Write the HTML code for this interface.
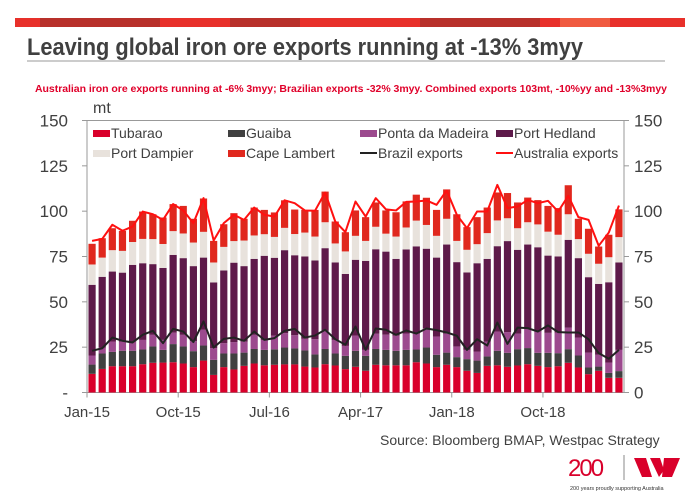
<!DOCTYPE html>
<html><head><meta charset="utf-8"><style>
body{margin:0;background:#fff;font-family:"Liberation Sans",Arial,sans-serif}
svg{display:block}
</style></head><body>
<svg id="c" width="700" height="495" viewBox="0 0 700 495" xmlns="http://www.w3.org/2000/svg" font-family="Liberation Sans, Arial, sans-serif">
<g>
<rect x="15" y="18" width="670" height="9" fill="#e8302a"/>
<rect x="40" y="18" width="120" height="9" fill="#b8302a"/>
<rect x="230" y="18" width="70" height="9" fill="#b8302a"/>
<rect x="420" y="18" width="120" height="9" fill="#b8302a"/>
<rect x="560" y="18" width="50" height="9" fill="#f05a40"/>
</g>
<text x="27" y="55" font-size="24" font-weight="bold" fill="#404040" textLength="556" lengthAdjust="spacingAndGlyphs">Leaving global iron ore exports running at -13% 3myy</text>
<line x1="27" y1="61" x2="665" y2="61" stroke="#999" stroke-width="1"/>
<text x="35" y="92" font-size="10.5" font-weight="bold" fill="#e0002a" textLength="632">Australian iron ore exports running at -6% 3myy; Brazilian exports -32% 3myy. Combined exports 103mt, -10%yy and -13%3myy</text>
<text x="93" y="113" font-size="16" fill="#404040">mt</text>
<g id="axes"></g>
<g id="bars"></g>
<g id="lines"></g>
<g>
<rect x="90" y="121" width="530" height="45" fill="#fff"/>
<g font-size="14" fill="#404040">
<rect x="93" y="130" width="17" height="7" fill="#d9002b"/><text x="111" y="138">Tubarao</text>
<rect x="228" y="130" width="17" height="7" fill="#404040"/><text x="246" y="138">Guaiba</text>
<rect x="360" y="130" width="17" height="7" fill="#9c4a8e"/><text x="378" y="138">Ponta da Madeira</text>
<rect x="496" y="130" width="17" height="7" fill="#5e1a4a"/><text x="514" y="138">Port Hedland</text>
<rect x="93" y="150" width="17" height="7" fill="#e8e2dc"/><text x="111" y="158">Port Dampier</text>
<rect x="228" y="150" width="17" height="7" fill="#e0281e"/><text x="246" y="158">Cape Lambert</text>
<line x1="360" y1="153" x2="377" y2="153" stroke="#222" stroke-width="2"/><text x="378" y="158">Brazil exports</text>
<line x1="496" y1="153" x2="513" y2="153" stroke="#ff1010" stroke-width="2"/><text x="514" y="158">Australia exports</text>
</g></g>
<text x="380" y="445" font-size="14" fill="#404040">Source: Bloomberg BMAP, Westpac Strategy</text>
<g>
<text x="568" y="476" font-size="24" fill="#d9002b" letter-spacing="-2">200</text>
<line x1="624" y1="455" x2="624" y2="480" stroke="#888" stroke-width="1"/>
<polygon points="634,458 646,458 652,477 642,477" fill="#d9002b"/>
<polygon points="650,458 660,458 664,470 659,477" fill="#d9002b"/>
<polygon points="664,458 680,458 672,477 662,477" fill="#d9002b"/>
<text x="570" y="490" font-size="5.5" fill="#333">200 years proudly supporting Australia</text>
</g>
</svg>
<script>
const tubarao=[10.3,13,14.5,14.5,14.5,15.6,16.4,16.5,16.7,16,14,17.6,9.7,14,12.7,14.7,16,15,15.3,15.5,15.5,14.3,13.8,15.6,14.9,12.9,14.2,12,15.3,15,15,15,16.7,16,14,15.3,14,12,10.8,14.7,15,14.2,14.9,15.6,14.7,14,14.5,16.4,13.8,10.1,12,8.1,8.1];
const guaiba=[5.1,8.5,7.9,8.5,8.5,8.1,9,7,10,9.4,8.8,8.3,8.3,7.5,8.8,7.3,8,8.5,8.5,9.3,8.8,8.9,7.2,8.4,6.6,7.3,8.8,8.2,8.7,8.5,8,8.5,7,8.8,6.8,6.7,5.5,6.4,6.8,5.2,8,7.7,9,8.9,7.2,7.9,7.2,7.5,6.6,3.7,2.3,2.7,3.7];
const ponta=[5,3.3,5.7,5.1,5.1,5.3,6.4,5.5,6.3,6.4,5.5,8.7,6.4,5.7,6.3,6,7.8,5.5,7.6,7.9,7.3,6.4,8.4,10,7.5,5.5,8.4,3.3,8.4,8.4,8.3,9,8.7,10.6,10.1,10.4,5.9,5.1,5,8.2,10.6,11.4,8.5,11,11.8,11,11.3,11.9,9.9,8.2,6.5,5.7,11.7];
const hedland=[39,39,38.6,38,42.3,42.3,39,39.7,42.9,42.3,41.4,39.8,36.3,40.1,43.8,41.7,41.9,46.4,42.9,45.8,44.1,45.4,43.4,45.6,42.7,39.7,41.8,49.1,46.6,45.8,42.4,46.4,48.2,43.9,43.5,49.2,46.5,42.7,48.7,45.6,47.1,50.2,46.3,46.1,46.4,42.6,42,48.4,43.8,41.6,39.1,44.3,48.2];
const dampier=[11.2,10.6,11.8,12,12.6,13.4,13.8,13.2,13.1,13.6,13,14.2,11,13,11.9,14.1,12.9,11.9,11.5,12.3,11.7,13.2,13.2,14.3,10.5,12.4,13.2,11,12.4,9.9,12.3,12.1,14.2,13.1,12,14.2,11.7,12.5,10.5,14.2,14.2,12.6,11.9,12.3,12.6,13.2,12,14.1,10.5,12.9,11.1,13.8,14];
const lambert=[11.4,10.7,12.1,11,11.7,15.1,13.7,14.6,14.9,15.2,13.1,18.4,11.9,12.5,15.4,12,15.4,13.4,13.5,15.2,13.5,12.5,14.7,16.9,12.1,10.6,14,13.1,13.4,12.8,13.4,14.4,14.3,15,14.3,16.2,14.7,12.5,14.9,14.1,15.4,13.9,14.2,13.6,13.4,14.2,14.7,16,11.2,13.8,9.5,12.4,15.3];
const brazilExports=[23,24.4,30.3,28.5,27.6,31.8,34,27.2,35.1,33.6,27.8,39.2,24.8,29.6,30.3,28.5,33.6,29,30,34,35.1,30.3,31.4,34.6,29.4,26.3,36.4,23.5,35.3,34.6,31.8,34.2,32.5,35.3,34.4,33.1,31.3,23.5,29.4,25.9,38.6,26.8,35.8,35.5,33.6,37,33.3,33.1,33.1,29.4,21.7,18.6,23.5];
const australiaExports=[83.6,84.7,92.5,89.2,91.5,99.8,98.3,95.2,103.9,100.4,93.4,107.2,83.8,93.4,98,95.2,102,98,97,106,104.4,100.4,100.2,110.3,94.3,88.5,105.3,97,107.2,101,100.4,105.1,105.3,105.9,103.5,111.4,98,90.6,99.8,99.8,114.5,101.7,102.6,106.2,104.4,105.7,99.8,108.5,96.7,95.2,80.9,88.2,103.1];
const yTicks=[0,25,50,75,100,125,150];
const yTickLabels=["-","25","50","75","100","125","150"];
const xTickIdx=[0,9,18,27,36,45];
const xTickLabels=["Jan-15","Oct-15","Jul-16","Apr-17","Jan-18","Oct-18"];

const NS="http://www.w3.org/2000/svg";
const X0=87,X1=624,Y0=392.5,YT=120.5,N=tubarao.length;
const bw=(X1-X0)/N;
const y=v=>Y0-(v/150)*(Y0-YT);
const xc=i=>X0+bw*(i+0.5);
function mk(tag,attrs,parent){const e=document.createElementNS(NS,tag);for(const k in attrs)e.setAttribute(k,attrs[k]);parent.appendChild(e);return e;}
const ax=document.getElementById('axes');
let e=mk('line',{x1:X0,y1:YT,x2:X0,y2:Y0,stroke:'#999'},ax);


e=mk('line',{x1:X1,y1:YT,x2:X1,y2:Y0,stroke:'#999'},ax);


e=mk('line',{x1:X0,y1:Y0,x2:X1,y2:Y0,stroke:'#999'},ax);


e=mk('line',{x1:X0-5,y1:YT,x2:X1+5,y2:YT,stroke:'#999'},ax);


yTicks.forEach((v,k)=>{
  mk('line',{x1:X0-5,y1:y(v),x2:X0,y2:y(v),stroke:'#999'},ax);
  mk('line',{x1:X1,y1:y(v),x2:X1+5,y2:y(v),stroke:'#999'},ax);
  let t=mk('text',{x:68,y:y(v)+6,'font-size':17,fill:'#404040','text-anchor':'end'},ax);t.textContent=yTickLabels[k];
  
  
  t=mk('text',{x:634,y:y(v)+6,'font-size':17,fill:'#404040'},ax);t.textContent=v===0?'0':yTickLabels[k];
  
  
});
xTickIdx.forEach((i,k)=>{
  const xx=X0+bw*i;
  mk('line',{x1:xx,y1:Y0,x2:xx,y2:Y0+5,stroke:'#999'},ax);
  const t=mk('text',{x:xx,y:417,'font-size':15,fill:'#404040','text-anchor':'middle'},ax);t.textContent=xTickLabels[k];
  
  
});
const series=[[tubarao,'#d9002b','tubarao'],[guaiba,'#404040','guaiba'],[ponta,'#9c4a8e','ponta'],[hedland,'#5e1a4a','hedland'],[dampier,'#e8e2dc','dampier'],[lambert,'#e0281e','lambert']];
const bg=document.getElementById('bars');
for(let i=0;i<N;i++){
  let cum=0;
  series.forEach(s=>{
    const v=s[0][i];
    const r=mk('rect',{x:xc(i)-3.6,y:y(cum+v),width:7.2,height:y(cum)-y(cum+v),fill:s[1]},bg);
    
    
    cum+=v;
  });
}
const lg=document.getElementById('lines');
function line(arr,col,name){
  const p=mk('polyline',{points:arr.map((v,i)=>xc(i)+','+y(v)).join(' '),fill:'none',stroke:col,'stroke-width':2,'stroke-linejoin':'round'},lg);
  
  
}
line(brazilExports,'#222','brazil-exports-line');
line(australiaExports,'#ff1010','australia-exports-line');
</script>
</body></html>
